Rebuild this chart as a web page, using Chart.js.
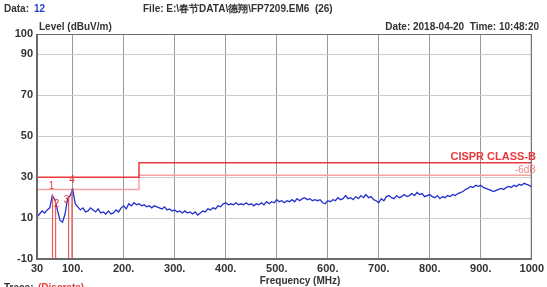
<!DOCTYPE html>
<html><head><meta charset="utf-8">
<script src="https://cdn.jsdelivr.net/npm/chart.js@4/dist/chart.umd.min.js"></script>
<style>html,body{margin:0;padding:0;background:#fff}#wrap{width:547px;height:287px;position:relative}</style>
</head><body><div id="wrap"><canvas id="c" width="547" height="287"></canvas></div>
<script>
// Frequencies (MHz) of the trace samples
const freqs = [];
for (let f = 30; f <= 1000; f += 5) freqs.push(f);
// Trace levels (dBuV/m)
const levels = [
10.5,12,13.5,12.5,14,15,21,19,14,9,8,12,19.5,21,24,17,15.5,14,15,13,13.5,15,14,13,14.5,12.5,13,12,13.5,12,12.5,14,13,15,16,14.5,17,16,17.5,16.5,
17,16,16.5,15.5,16,15,16,15.5,15,14.5,15.5,14,14.5,13.5,14,13,13.5,12.5,13.5,12.5,13,12,13,11.5,12.5,13.5,13,14.5,14,15,14.5,16,15.5,17,17.5,
16.5,17,16.5,17.5,16.5,17,16.5,17.5,16.5,17,16,17,16.5,17.5,16.5,18,17,18,17.5,19,18,18.5,17.5,18.5,18,19,18,19.5,18.5,19.5,20,19,19.5,18.5,
19,18.5,19,17.5,17,18.5,18,19,18.5,20,19,19.5,21,19.5,20,19,20.5,19.5,21,20,21.5,20,20.5,19,18.5,17.5,19.5,18.5,20.5,21,20,19.5,21,20,20.5,
21.5,20.5,21,22,21,22.5,21.5,22,20.5,21,21.5,20.5,20,21,19.5,20.5,20,21,20.5,21.5,21,22,22.5,23,24,24.5,25.5,25,26,25.5,26,25,24.5,24,23.5,
23,23.5,24,24.5,24,25,25.5,25,26,25.5,26.5,26,27,26.5,26,25
];
// CISPR class B limit and -6dB line
const limitFreqs = [30, 230, 230, 1000];
const limitLevels = [30, 30, 37, 37];
const marginLevels = [24, 24, 31, 31];
// Markers
const markerNames = ['1', '2', '3', '4'];
const markerFreqs = [60.5, 66.5, 92, 98.5];
const markerLevels = [21.5, 19, 20, 24.5];
// Axis ticks
const xTicks = [30, 100, 200, 300, 400, 500, 600, 700, 800, 900, 1000];
const xTickLabels = ['30', '100.', '200.', '300.', '400.', '500.', '600.', '700.', '800.', '900.', '1000'];
const yTicks = [-10, 10, 30, 50, 70, 90, 100];

const pts = (xs, ys) => xs.map((x, i) => ({x: x, y: ys[i]}));
const RED = '#e8383d', PINK = '#f3a3a3', BLUE = '#2430cc';

const datasets = [
  {data: pts(limitFreqs, marginLevels), borderColor: PINK, borderWidth: 1.5, pointRadius: 0, order: 3},
  {data: pts(limitFreqs, limitLevels), borderColor: RED, borderWidth: 1.5, pointRadius: 0, order: 2},
  {data: pts(freqs, levels), borderColor: BLUE, borderWidth: 1.3, pointRadius: 0, order: 1}
];
markerFreqs.forEach((f, i) => {
  datasets.push({data: [{x: f, y: -10}, {x: f, y: markerLevels[i]}], borderColor: '#ec5a5a', borderWidth: 1.2, pointRadius: 0, order: 0});
});

const FONT = '"Liberation Sans", Arial, sans-serif';
const textPlugin = {
  id: 'texts',
  afterDraw(chart) {
    const ctx = chart.ctx, a = chart.chartArea, xs = chart.scales.x, ys = chart.scales.y;
    ctx.save();
    // frame
    ctx.strokeStyle = '#6a6a6a'; ctx.lineWidth = 1;
    ctx.strokeRect(a.left + 0.5, a.top + 0.5, a.right - a.left - 1, a.bottom - a.top - 1);
    ctx.lineWidth = 2;
    ctx.beginPath(); ctx.moveTo(a.left, a.top); ctx.lineTo(a.left, a.bottom); ctx.lineTo(a.right, a.bottom); ctx.stroke();
    // header
    ctx.textBaseline = 'alphabetic'; ctx.textAlign = 'left';
    ctx.font = 'bold 10px ' + FONT;
    ctx.fillStyle = '#333'; ctx.fillText('Data:', 4, 12);
    ctx.fillStyle = '#2a3fd0'; ctx.fillText('12', 34, 12);
    ctx.fillStyle = '#333';
    ctx.fillText('File: E:\\春节DATA\\德翔\\FP7209.EM6  (26)', 143, 12);
    ctx.fillText('Level (dBuV/m)', 39, 30);
    ctx.textAlign = 'right';
    ctx.fillText('Date: 2018-04-20  Time: 10:48:20', 539, 30);
    // axis title
    ctx.textAlign = 'center';
    ctx.fillText('Frequency (MHz)', 300, 284);
    ctx.textAlign = 'left';
    ctx.fillText('Trace:', 4, 291);
    ctx.fillStyle = RED; ctx.fillText('(Discrete)', 38, 291);
    // limit labels
    ctx.textAlign = 'right';
    ctx.font = 'bold 11px ' + FONT;
    ctx.fillStyle = RED; ctx.fillText('CISPR CLASS-B', 536, ys.getPixelForValue(37) - 3);
    ctx.font = '10px ' + FONT;
    ctx.fillStyle = '#f08080'; ctx.fillText('-6dB', 536, ys.getPixelForValue(31) - 2);
    // marker labels
    ctx.textAlign = 'center';
    ctx.font = '10px ' + FONT;
    ctx.fillStyle = RED;
    const off = [[-1, -6], [1, 7], [-2, 5], [0, -5]];
    markerNames.forEach((n, i) => {
      const px = xs.getPixelForValue(markerFreqs[i]) + off[i][0];
      const py = ys.getPixelForValue(markerLevels[i]) + off[i][1];
      ctx.fillText(n, px, py);
    });
    ctx.restore();
  }
};

new Chart(document.getElementById('c'), {
  type: 'line',
  data: {datasets: datasets},
  options: {
    responsive: false, animation: false,
    layout: {padding: {left: 0, top: 34, right: 8, bottom: 0}},
    plugins: {legend: {display: false}, tooltip: {enabled: false}},
    elements: {line: {tension: 0}},
    scales: {
      x: {
        type: 'linear', min: 30, max: 1000,
        afterBuildTicks: s => { s.ticks = xTicks.map(v => ({value: v})); },
        afterFit: s => { s.height = 28; },
        ticks: {callback: (v) => xTickLabels[xTicks.indexOf(v)], color: '#333', font: {family: FONT, size: 11, weight: 'bold'}, padding: 3, maxRotation: 0, autoSkip: false},
        grid: {color: '#9a9a9a', lineWidth: 1, drawTicks: false},
        border: {display: false}
      },
      y: {
        type: 'linear', min: -10, max: 100,
        afterBuildTicks: s => { s.ticks = yTicks.map(v => ({value: v})); },
        afterFit: s => { s.width = 37; },
        ticks: {color: '#333', font: {family: FONT, size: 11, weight: 'bold'}, padding: 4, autoSkip: false},
        grid: {color: '#cccccc', lineWidth: 1, drawTicks: false},
        border: {display: false}
      }
    }
  },
  plugins: [textPlugin]
});
</script></body></html>
